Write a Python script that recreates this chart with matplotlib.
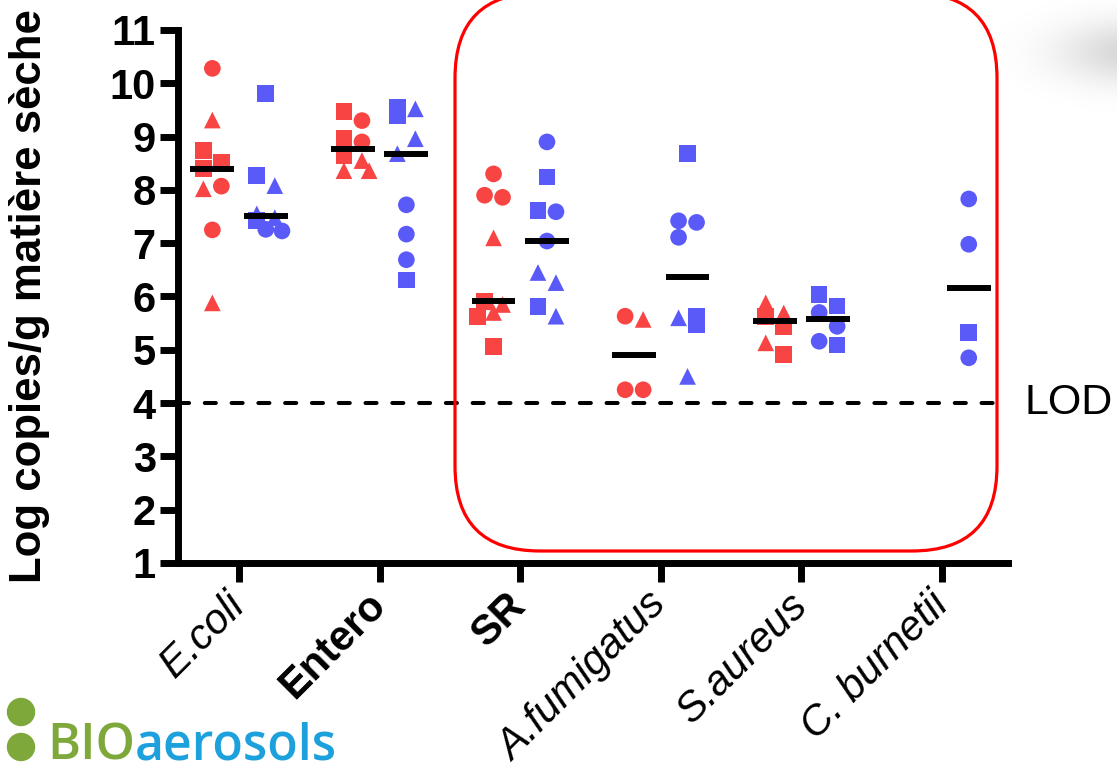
import numpy as np
import matplotlib
matplotlib.use("Agg")
import matplotlib.pyplot as plt
from matplotlib.patches import FancyBboxPatch, Circle
import matplotlib.transforms as mtransforms

plt.rcParams['font.family'] = ['Liberation Sans', 'DejaVu Sans']

# =========================
# data (log copies / g)
# A = circles, B = triangles, C = squares
# =========================

categories = ["E.coli", "Entero", "SR", "A.fumigatus", "S.aureus", "C. burnetii"]

ecoli_r = {"A": [10.28, 8.07, 7.25], "B": [9.31, 8.02, 5.88], "C": [8.74, 8.52, 8.40]}
ecoli_b = {"A": [7.26, 7.23], "B": [8.08, 7.55, 7.48], "C": [9.81, 8.27, 7.42]}
entero_r = {"A": [9.30, 8.90], "B": [8.55, 8.36, 8.36], "C": [9.47, 8.96, 8.65]}
entero_b = {"A": [7.72, 7.17, 6.69], "B": [9.52, 8.96, 8.68], "C": [9.55, 9.40, 6.31]}
sr_r = {"A": [8.30, 7.90, 7.86], "B": [7.10, 5.85, 5.70], "C": [5.91, 5.63, 5.06]}
sr_b = {"A": [8.90, 7.59, 7.04], "B": [6.45, 6.26, 5.63], "C": [8.24, 7.61, 5.81]}
afum_r = {"A": [5.63, 4.25, 4.25], "B": [5.57], "C": []}
afum_b = {"A": [7.42, 7.39, 7.11], "B": [5.60, 4.50], "C": [8.68, 5.63, 5.47]}
saur_r = {"A": [], "B": [5.88, 5.69, 5.13], "C": [5.63, 5.44, 4.91]}
saur_b = {"A": [5.70, 5.44, 5.16], "B": [], "C": [6.04, 5.82, 5.09]}
cbur_r = {"A": [], "B": [], "C": []}
cbur_b = {"A": [7.83, 6.98, 4.85], "B": [], "C": [5.33]}

red_groups = [ecoli_r, entero_r, sr_r, afum_r, saur_r, cbur_r]
blue_groups = [ecoli_b, entero_b, sr_b, afum_b, saur_b, cbur_b]

lod = 4

# =========================
# style
# =========================

RED = "#F94444"
BLUE = "#5A5AF8"
markers = {"A": "o", "B": "^", "C": "s"}
ms = 12
dodge = 0.19


def spread(vals, ppy, d=17.0, h=9.0, dc=16.0):
    # small beeswarm: neighbours closer than dc are pushed left/right
    vals = np.asarray(vals, float)
    n = len(vals)
    order = np.argsort(-vals, kind="stable")
    ypx = vals * ppy
    offs = np.zeros(n)
    side = -1
    placed = []
    for k, i in enumerate(order):
        near = False
        if k > 0 and ypx[order[k - 1]] - ypx[i] < dc:
            near = True
        if k + 1 < n and ypx[i] - ypx[order[k + 1]] < dc:
            near = True
        if near:
            cand = side * h
            for c in (side * h, -side * h, 0.0, side * 1.8 * h, -side * 1.8 * h):
                if all(np.hypot(c - offs[j], ypx[i] - ypx[j]) >= 0.7 * d for j in placed):
                    cand = c
                    break
            offs[i] = cand
            if cand != 0:
                side = -int(np.sign(cand))
        placed.append(i)
    return offs


# =========================
# figure
# =========================

fig = plt.figure(figsize=(11.17, 7.71), dpi=100)
ax = fig.add_axes([0.1594, 0.2698, 0.7430, 0.6913])
ax.set_xlim(-0.434, 5.469)
ax.set_ylim(1, 11)

p0 = ax.transData.transform((0, 0))
p1 = ax.transData.transform((1, 1))
ppx = p1[0] - p0[0]
ppy = p1[1] - p0[1]

for i in range(len(categories)):
    for grp, col, sgn in ((red_groups[i], RED, -1), (blue_groups[i], BLUE, 1)):
        keys = [k for k in ("A", "B", "C") for _ in grp[k]]
        vals = [v for k in ("A", "B", "C") for v in grp[k]]
        if not vals:
            continue
        xc = i + sgn * dodge
        offs = spread(vals, ppy) / ppx
        keys = np.array(keys)
        vals = np.array(vals)
        for k in ("A", "B", "C"):
            m = keys == k
            if m.any():
                ax.scatter(xc + offs[m], vals[m], s=ms ** 2, marker=markers[k],
                           color=col, edgecolors="none", zorder=3, clip_on=False)
        ax.hlines(np.median(vals), xc - 0.156, xc + 0.156, color="black",
                  lw=4.3, zorder=5)

# LOD
ax.axhline(lod, color="black", lw=2.9, linestyle=(0, (2.75, 3.9)),
           dash_capstyle="round", zorder=2)
trans = mtransforms.blended_transform_factory(ax.transAxes, ax.transData)
ax.text(1.02, lod, "LOD", transform=trans, fontsize=31, va="center", ha="left")

# axes
for s in ("top", "right"):
    ax.spines[s].set_visible(False)
for s in ("left", "bottom"):
    ax.spines[s].set_linewidth(5)

ax.set_yticks(range(1, 12))
ax.tick_params(axis="y", length=13, width=5, labelsize=30, pad=3)
for lbl in ax.get_yticklabels():
    lbl.set_fontweight("bold")

ax.set_xticks(range(len(categories)))
ax.set_xticklabels(categories, rotation=45, ha="right", va="center",
                   rotation_mode="anchor", fontsize=30)
ax.tick_params(axis="x", length=14, width=5, pad=12)
for lbl in ax.get_xticklabels():
    if lbl.get_text() in ("Entero", "SR"):
        lbl.set_fontweight("bold")
    else:
        lbl.set_fontstyle("italic")

ax.set_ylabel("Log copies/g matière sèche", fontsize=31.5, fontweight="bold")
ax.yaxis.set_label_coords(-0.154, 0.5)

# =========================
# overlay (pixel coords): box, logo, shadow
# =========================

ov = fig.add_axes([0, 0, 1, 1], zorder=10)
ov.patch.set_alpha(0)
ov.axis("off")

gx, gy = np.meshgrid(np.linspace(980, 1117, 140), np.linspace(0, 130, 130))
shade = np.zeros((130, 140, 4))
shade[..., 3] = 0.16 * np.exp(-((gx - 1135) / 75) ** 2 - ((gy - 52) / 32) ** 2)
ov.imshow(shade, extent=[980, 1117, 130, 0], aspect="auto", interpolation="bilinear")

box = FancyBboxPatch((455 + 85, -7 + 85), 997 - 455 - 170, 551 + 7 - 170,
                     boxstyle="round,pad=85", fill=False, edgecolor="#FF0000", lw=2.3)
ov.add_patch(box)

GREEN = "#7FA83A"
LBLUE = "#1DA1DC"
ov.add_patch(Circle((21, 712), 13.5, color=GREEN))
ov.add_patch(Circle((21, 747), 13.5, color=GREEN))
t1 = ov.text(47, 759, "BIO", fontsize=36, color=GREEN, fontweight="semibold",
             family=["Open Sans", "DejaVu Sans"], va="baseline", ha="left")

ov.set_xlim(0, 1117)
ov.set_ylim(771, 0)

fig.canvas.draw()
bb = t1.get_window_extent()
ov.text(bb.x1, 759, "aerosols", fontsize=36, color=LBLUE, fontweight="semibold",
        family=["Open Sans", "DejaVu Sans"], va="baseline", ha="left")

fig.savefig("out.png", dpi=100)
